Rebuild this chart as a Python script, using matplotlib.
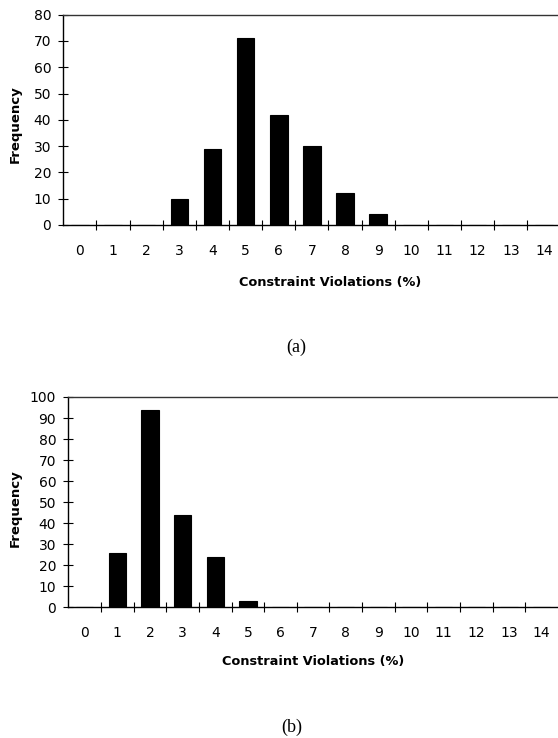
import matplotlib
matplotlib.use("Agg")
import matplotlib.pyplot as plt
import numpy as np

categories = list(range(15))
freq_a = [0, 0, 0, 10, 29, 71, 42, 30, 12, 4, 0, 0, 0, 0, 0]
freq_b = [0, 26, 94, 44, 24, 3, 0, 0, 0, 0, 0, 0, 0, 0, 0]
yticks_a = list(range(0, 81, 10))
yticks_b = list(range(0, 101, 10))
xlabel = "Constraint Violations (%)"
ylabel = "Frequency"
captions = ["(a)", "(b)"]

W, H = 558, 738
fig = plt.figure(figsize=(W / 100, H / 100), dpi=100)

def px(x0, y0, x1, y1):
    return [x0 / W, 1 - y1 / H, (x1 - x0) / W, (y1 - y0) / H]

def draw(ax, vals, yticks):
    x = np.array(categories)
    ax.bar(x, vals, width=0.53, color="black", edgecolor="black", linewidth=0.8, zorder=3)
    ax.set_xlim(-0.5, 14.5)
    ax.set_ylim(0, yticks[-1])
    ax.spines["right"].set_visible(False)
    for s in ["left", "bottom", "top"]:
        ax.spines[s].set_linewidth(1.0)
        ax.spines[s].set_color("black")
    ax.spines["top"].set_color("#333333")
    ax.set_yticks(yticks)
    ax.set_xticks(x)
    ax.set_xticks(x[:-1] + 0.5, minor=True)
    ax.tick_params(axis="x", which="major", length=0, pad=13.5, labelsize=10)
    ax.tick_params(axis="x", which="minor", direction="inout", length=7, width=0.8)
    ax.tick_params(axis="y", which="major", direction="inout", length=7.5, width=0.8,
                   pad=5, labelsize=10)
    ax.set_facecolor("white")

ax_a = fig.add_axes(px(63.3, 14.7, 560.5, 225))
draw(ax_a, freq_a, yticks_a)
ax_b = fig.add_axes(px(68.3, 397, 558, 607.3))
draw(ax_b, freq_b, yticks_b)

fig.text(15 / W, 1 - 124 / H, ylabel, rotation=90, ha="center", va="center",
         fontsize=9.5, fontweight="bold")
fig.text(15 / W, 1 - 508 / H, ylabel, rotation=90, ha="center", va="center",
         fontsize=9.5, fontweight="bold")
fig.text(330 / W, 1 - 283 / H, xlabel, ha="center", va="center",
         fontsize=9.3, fontweight="bold")
fig.text(313 / W, 1 - 662 / H, xlabel, ha="center", va="center",
         fontsize=9.3, fontweight="bold")
fig.text(296 / W, 1 - 347 / H, captions[0], ha="center", va="center",
         fontsize=13, family="Liberation Serif")
fig.text(292 / W, 1 - 727 / H, captions[1], ha="center", va="center",
         fontsize=13, family="Liberation Serif")

fig.savefig("out.png", dpi=100, facecolor="white")
